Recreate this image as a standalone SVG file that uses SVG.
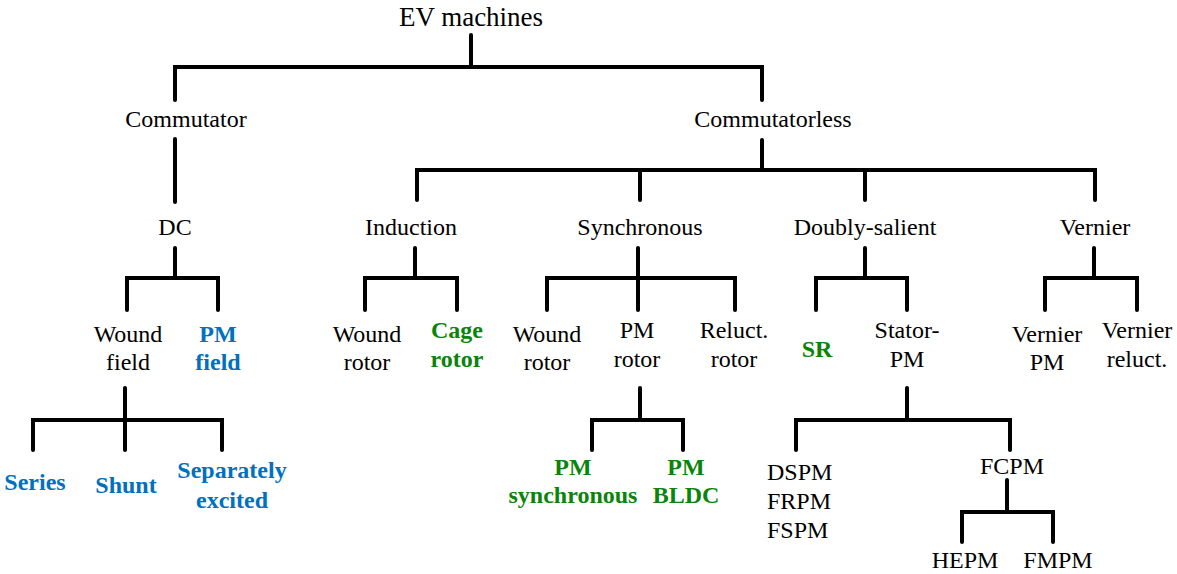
<svg xmlns="http://www.w3.org/2000/svg" width="1177" height="574" viewBox="0 0 1177 574">
  <style>
    .bg { fill: #ffffff; }
    .link { fill: none; stroke: #000000; stroke-width: 4; stroke-linecap: round; stroke-linejoin: miter; }
    .lbl text { font-family: 'Liberation Serif', 'Times New Roman', Times, Tinos, 'Noto Serif', 'DejaVu Serif', 'Nimbus Roman', FreeSerif, serif; font-size: 24px; text-anchor: middle; fill: #000000; }
    .lbl text.title { font-size: 27px; }
    .lbl text.blue { fill: #0070C0; font-weight: bold; }
    .lbl text.green { fill: #0A840A; font-weight: bold; }
    .lbl text.left { text-anchor: start; }
  </style>
  <rect class="bg" x="0" y="0" width="1177" height="574"/>

  <!-- tree connectors -->
  <g id="connectors" class="link">
    <path d="M471,35 V67"/>
    <path d="M175,100 V67 H762 V100"/>
    <path d="M175,139 V202"/>
    <path d="M762,140 V170"/>
    <path d="M417,200 V170 H1095 V200"/>
    <path d="M640,170 V200"/>
    <path d="M865,170 V200"/>
    <!-- DC -->
    <path d="M175,248 V278"/>
    <path d="M127,310 V278 H218 V310"/>
    <!-- wound field -->
    <path d="M125,388 V450"/>
    <path d="M33,450 V420 H222 V450"/>
    <!-- induction -->
    <path d="M415,248 V278"/>
    <path d="M365,310 V278 H457 V310"/>
    <!-- synchronous -->
    <path d="M638,248 V310"/>
    <path d="M547,310 V278 H735 V310"/>
    <!-- PM rotor -->
    <path d="M640,388 V420"/>
    <path d="M592,450 V420 H683 V450"/>
    <!-- doubly-salient -->
    <path d="M865,248 V278"/>
    <path d="M816,310 V278 H907 V310"/>
    <!-- vernier -->
    <path d="M1094,248 V278"/>
    <path d="M1045,310 V278 H1137 V310"/>
    <!-- stator-PM -->
    <path d="M907,388 V420"/>
    <path d="M796,450 V420 H1010 V450"/>
    <!-- FCPM -->
    <path d="M1007,480 V512"/>
    <path d="M962,542 V512 H1053 V542"/>
  </g>

  <g class="lbl">
    <g id="ev-machines"><text class="title" x="471" y="26">EV machines</text></g>
    <g id="commutator"><text x="186" y="127">Commutator</text></g>
    <g id="commutatorless"><text x="773" y="127">Commutatorless</text></g>

    <g id="dc"><text x="175" y="235">DC</text></g>
    <g id="induction"><text x="411" y="235">Induction</text></g>
    <g id="synchronous"><text x="640" y="235">Synchronous</text></g>
    <g id="doubly-salient"><text x="865" y="235">Doubly-salient</text></g>
    <g id="vernier"><text x="1095" y="235">Vernier</text></g>

    <g id="wound-field"><text x="128" y="342">Wound</text><text x="128" y="370">field</text></g>
    <g id="pm-field"><text class="blue" x="218" y="342">PM</text><text class="blue" x="218" y="370">field</text></g>

    <g id="ind-wound-rotor"><text x="367" y="342">Wound</text><text x="367" y="370">rotor</text></g>
    <g id="cage-rotor"><text class="green" x="457" y="338">Cage</text><text class="green" x="457" y="367">rotor</text></g>

    <g id="syn-wound-rotor"><text x="547" y="342">Wound</text><text x="547" y="370">rotor</text></g>
    <g id="pm-rotor"><text x="637" y="338">PM</text><text x="637" y="367">rotor</text></g>
    <g id="reluct-rotor"><text x="734" y="338">Reluct.</text><text x="734" y="367">rotor</text></g>

    <g id="sr"><text class="green" x="817" y="357">SR</text></g>
    <g id="stator-pm"><text x="907" y="338">Stator-</text><text x="907" y="367">PM</text></g>

    <g id="vernier-pm"><text x="1047" y="342">Vernier</text><text x="1047" y="370">PM</text></g>
    <g id="vernier-reluct"><text x="1137" y="338">Vernier</text><text x="1137" y="367">reluct.</text></g>

    <g id="series"><text class="blue" x="35" y="490">Series</text></g>
    <g id="shunt"><text class="blue" x="126" y="493">Shunt</text></g>
    <g id="separately-excited"><text class="blue" x="232" y="478">Separately</text><text class="blue" x="232" y="508">excited</text></g>

    <g id="pm-synchronous"><text class="green" x="573" y="475">PM</text><text class="green" x="573" y="503">synchronous</text></g>
    <g id="pm-bldc"><text class="green" x="686" y="475">PM</text><text class="green" x="686" y="503">BLDC</text></g>

    <g id="dspm-group">
      <text class="left" x="767" y="480">DSPM</text>
      <text class="left" x="767" y="509">FRPM</text>
      <text class="left" x="767" y="538">FSPM</text>
    </g>
    <g id="fcpm"><text x="1012" y="474">FCPM</text></g>
    <g id="hepm"><text x="965" y="568">HEPM</text></g>
    <g id="fmpm"><text x="1058" y="568">FMPM</text></g>
  </g>
</svg>
